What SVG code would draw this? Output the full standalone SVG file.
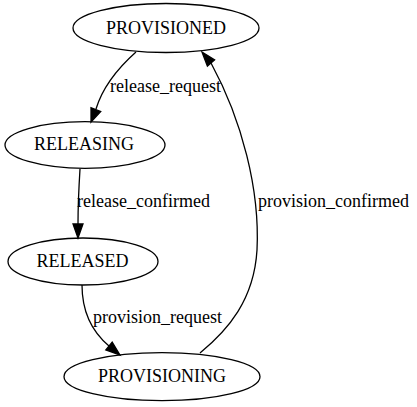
<svg xmlns="http://www.w3.org/2000/svg" width="417" height="407" viewBox="0 0 417 407">
<style>
  .node ellipse { fill: none; stroke: #000; stroke-width: 1.3; }
  .node text { font-family: "Liberation Serif", "Times New Roman", serif; font-size: 18px; fill: #000; text-anchor: middle; }
  .edge path { fill: none; stroke: #000; stroke-width: 1.3; }
  .edge polygon { fill: #000; stroke: #000; stroke-width: 1.3; }
  .edge text { font-family: "Liberation Serif", "Times New Roman", serif; font-size: 18px; fill: #000; }
</style>
<rect width="417" height="407" fill="#fff"/>
<g id="PROVISIONED" class="node">
  <ellipse cx="166" cy="28" rx="93" ry="24.5"/>
  <text x="166" y="34">PROVISIONED</text>
</g>
<g id="RELEASING" class="node">
  <ellipse cx="85" cy="145" rx="80" ry="23.3"/>
  <text x="84" y="150">RELEASING</text>
</g>
<g id="RELEASED" class="node">
  <ellipse cx="83" cy="261.5" rx="75" ry="23.5"/>
  <text x="82.5" y="266.5">RELEASED</text>
</g>
<g id="PROVISIONING" class="node">
  <ellipse cx="162" cy="376.7" rx="98" ry="24"/>
  <text x="162" y="382">PROVISIONING</text>
</g>
<g id="edges">
  <g class="edge">
    <path d="M136,52 C118,68 103,86 96,109"/>
    <polygon points="91,122 100.7,111.5 91,107.8"/>
    <text x="110" y="92">release_request</text>
  </g>
  <g class="edge">
    <path d="M80,169 C79,185 78,205 78,224"/>
    <polygon points="78,238 83,224 73,224"/>
    <text x="77" y="207">release_confirmed</text>
  </g>
  <g class="edge">
    <path d="M82,285 C82,310 90,330 109,346"/>
    <polygon points="120,355 112.2,342.1 105.8,349.9"/>
    <text x="93" y="323">provision_request</text>
  </g>
  <g class="edge">
    <path d="M200,353 C228,330 254,300 257,250 C260,190 242,120 211,63"/>
    <polygon points="202,52 214.6,59.9 207.4,66.1"/>
    <text x="258" y="207">provision_confirmed</text>
  </g>
</g>
</svg>
